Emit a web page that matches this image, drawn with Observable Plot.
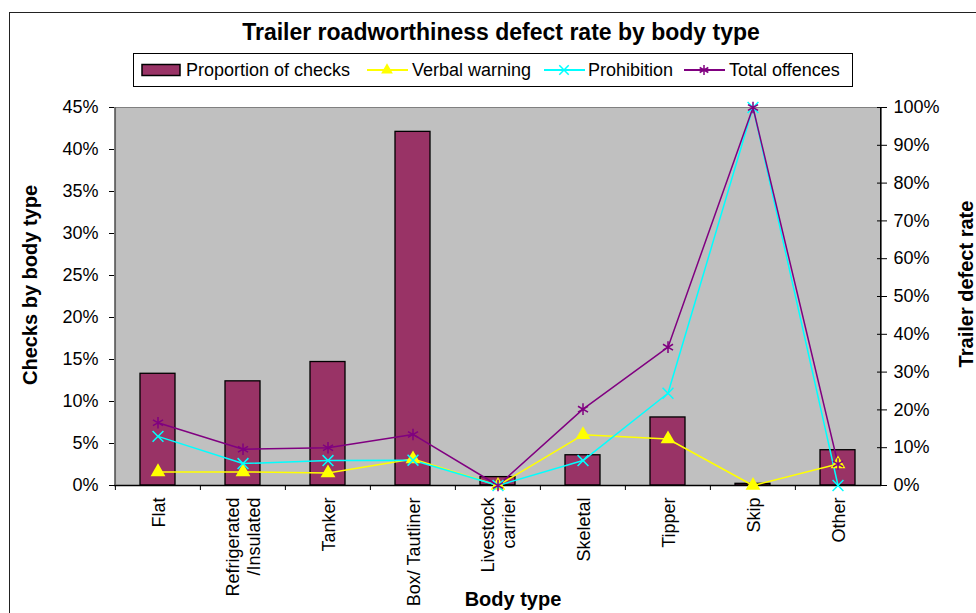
<!DOCTYPE html>
<html>
<head>
<meta charset="utf-8">
<script src="https://cdn.jsdelivr.net/npm/d3@7"></script>
<script src="https://cdn.jsdelivr.net/npm/@observablehq/plot@0.6"></script>
<style>
  body { margin: 0; background: #fff; }
  #wrap { position: relative; width: 976px; height: 613px; overflow: hidden; background: #fff; font-family: Arial, "Liberation Sans", sans-serif; color: #000; }
  #border { position: absolute; left: 9px; top: 12px; width: 1000px; height: 700px; border: 1px solid #222; box-sizing: border-box; }
  #title { position: absolute; left: 0; top: 18px; width: 1002px; text-align: center; font-weight: bold; font-size: 23px; line-height: 28px; }
  #legend { position: absolute; left: 133px; top: 53px; width: 720px; height: 34px; border: 1px solid #000; box-sizing: border-box; background: #fff; font-size: 18px; white-space: nowrap; }
  #legend > * { position: absolute; }
  #legend span { top: 5px; line-height: 22px; }
  .axt { position: absolute; font-weight: bold; font-size: 20px; white-space: nowrap; }
  #chart { position: absolute; left: 0; top: 0; }
</style>
</head>
<body>
<div id="wrap">
  <div id="border"></div>
  <div id="chart"></div>
  <div id="title">Trailer roadworthiness defect rate by body type</div>
  <div id="legend"></div>
  <div class="axt" id="xt">Body type</div>
  <div class="axt" id="ylt">Checks by body type</div>
  <div class="axt" id="yrt">Trailer defect rate</div>
</div>
<script>
const categories = ["Flat", "Refrigerated\n/Insulated", "Tanker", "Box/ Tautliner", "Livestock\ncarrier", "Skeletal", "Tipper", "Skip", "Other"];
const proportionOfChecks = [0.133, 0.124, 0.147, 0.421, 0.010, 0.036, 0.081, 0.002, 0.042];
const verbalWarning = [0.036, 0.036, 0.033, 0.070, 0.000, 0.134, 0.123, 0.000, 0.057];
const prohibition = [0.130, 0.058, 0.066, 0.067, 0.000, 0.066, 0.244, 1.000, 0.000];
const totalOffences = [0.166, 0.096, 0.100, 0.135, 0.000, 0.202, 0.366, 1.000, 0.057];
const leftTicks = [0, 0.05, 0.10, 0.15, 0.20, 0.25, 0.30, 0.35, 0.40, 0.45];
const rightTicks = [0, 0.1, 0.2, 0.3, 0.4, 0.5, 0.6, 0.7, 0.8, 0.9, 1.0];
const seriesNames = ["Proportion of checks", "Verbal warning", "Prohibition", "Total offences"];

const colors = { bar: "#993366", verbal: "#FFFF00", prohibition: "#00FFFF", total: "#800080" };
const W = 976, H = 613, mL = 114, mR = 95, mT = 107, mB = 128;
const step = (W - mL - mR) / categories.length;
const leftMax = 0.45;            // left axis maximum
const toLeft = v => v * leftMax; // map right-axis value (0..1) onto shared y scale

const rows = categories.map((c, i) => ({
  cat: c,
  prop: proportionOfChecks[i],
  verbal: verbalWarning[i],
  prohib: prohibition[i],
  total: totalOffences[i]
}));

const font = "Arial, 'Liberation Sans', sans-serif";

const plot = Plot.plot({
  width: W, height: H,
  marginLeft: mL, marginRight: mR, marginTop: mT, marginBottom: mB,
  style: { fontFamily: font, fontSize: "18px", color: "#000", background: "transparent", overflow: "visible" },
  x: { domain: categories, paddingInner: 0.59, paddingOuter: 0.295 },
  y: { domain: [0, leftMax] },
  marks: [
    Plot.frame({ fill: "#C0C0C0", stroke: "#808080" }),
    Plot.barY(rows, { x: "cat", y: "prop", fill: colors.bar, stroke: "#000", strokeWidth: 1.3 }),
    Plot.ruleY([0], { stroke: "#000", strokeWidth: 1.3 }),
    // left axis line
    Plot.ruleX([categories[0]], { y1: 0, y2: leftMax, dx: -step / 2, stroke: "#666", strokeWidth: 1.3 }),
    // right axis line
    Plot.ruleX([categories[categories.length - 1]], { y1: 0, y2: leftMax, dx: step / 2, stroke: "#000", strokeWidth: 1.2 }),
    // category boundary ticks
    Plot.axisX({ tickSize: 5, dx: -step / 2, tickFormat: () => "", stroke: "#000", label: null }),
    Plot.axisX({ tickSize: 0, tickPadding: 12, tickRotate: -90, fontSize: 18, lineHeight: 1.15, label: null }),
    Plot.axisY(leftTicks, { anchor: "left", tickSize: 5, tickPadding: 11, tickFormat: d => Math.round(d * 100) + "%", label: null, fontSize: 18 }),
    Plot.axisY(rightTicks.map(toLeft), { anchor: "right", tickSize: 10, dx: -5, tickPadding: 7, tickFormat: d => Math.round(d / leftMax * 100) + "%", label: null, fontSize: 18 }),
    // lines
    Plot.lineY(rows, { x: "cat", y: d => toLeft(d.verbal), stroke: colors.verbal, strokeWidth: 1.5 }),
    Plot.lineY(rows, { x: "cat", y: d => toLeft(d.prohib), stroke: colors.prohibition, strokeWidth: 1.5 }),
    Plot.lineY(rows, { x: "cat", y: d => toLeft(d.total), stroke: colors.total, strokeWidth: 1.5 }),
    Plot.dot(rows, { x: "cat", y: d => toLeft(d.verbal), symbol: "triangle", fill: colors.verbal, r: 5.5 }),
    Plot.dot(rows, { x: "cat", y: d => toLeft(d.prohib), symbol: "times", stroke: colors.prohibition, strokeWidth: 1.5, r: 5 }),
    Plot.dot(rows, { x: "cat", y: d => toLeft(d.total), symbol: "asterisk", stroke: colors.total, strokeWidth: 1.5, r: 5.5 })
  ]
});
document.getElementById("chart").appendChild(plot);

// legend (positions relative to legend box)
const legend = d3.select("#legend");
function symbol(kind, left) {
  const s = legend.append("svg").attr("width", kind === "bar" ? 42 : 44).attr("height", 20)
    .style("left", left + "px").style("top", "6px");
  if (kind === "bar") {
    s.append("rect").attr("x", 1).attr("y", 4.5).attr("width", 38).attr("height", 11)
      .attr("fill", colors.bar).attr("stroke", "#000").attr("stroke-width", 1.5);
  } else {
    const col = colors[kind];
    s.append("line").attr("x1", 1).attr("x2", 42).attr("y1", 10).attr("y2", 10).attr("stroke", col).attr("stroke-width", 2);
    const tr = "translate(21,10)";
    if (kind === "verbal") s.append("path").attr("d", d3.symbol(d3.symbolTriangle, 60)()).attr("transform", tr).attr("fill", col);
    if (kind === "prohibition") s.append("path").attr("d", d3.symbol(d3.symbolTimes, 60)()).attr("transform", tr).attr("stroke", col).attr("stroke-width", 1.5).attr("fill", "none");
    if (kind === "total") s.append("path").attr("d", d3.symbol(d3.symbolAsterisk, 70)()).attr("transform", tr).attr("stroke", col).attr("stroke-width", 1.5).attr("fill", "none");
  }
}
const kinds = ["bar", "verbal", "prohibition", "total"];
const symLeft = [7, 232, 409, 549];
const textLeft = [52, 278, 454, 595];
kinds.forEach((k, i) => {
  symbol(k, symLeft[i]);
  legend.append("span").style("left", textLeft[i] + "px").text(seriesNames[i]);
});

// axis titles
const xt = document.getElementById("xt");
xt.style.left = "513px"; xt.style.top = "599px";
xt.style.transform = "translate(-50%,-50%)";
const ylt = document.getElementById("ylt");
ylt.style.left = "30px"; ylt.style.top = "285px";
ylt.style.transform = "translate(-50%,-50%) rotate(-90deg)";
const yrt = document.getElementById("yrt");
yrt.style.left = "966px"; yrt.style.top = "284px";
yrt.style.transform = "translate(-50%,-50%) rotate(-90deg)";
</script>
</body>
</html>
